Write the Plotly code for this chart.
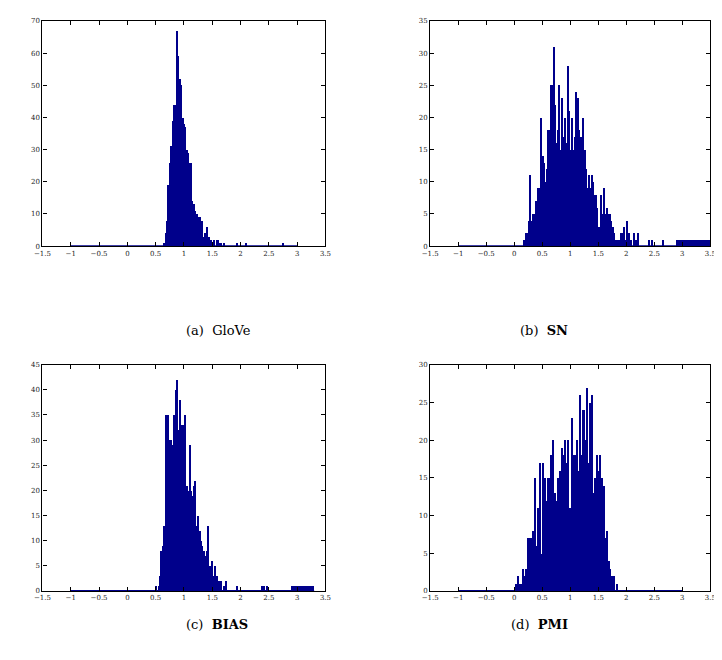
import plotly.graph_objects as go
import numpy as np

# histogram counts (bin start, bin width, counts)
glove_start, glove_step = 0.65, 0.025
glove_counts = [1, 4, 8, 19, 26, 31, 39, 44, 44, 67, 59, 52, 50, 40, 38, 37, 30, 29, 26, 26,
                14, 13, 11, 10, 9, 9, 8, 8, 3, 4, 6, 3, 3, 2, 0, 2, 0, 2, 2, 1, 1, 0, 1]
glove_tail_x = [1.94, 2.1, 2.75]
glove_tail_y = [1, 1, 1]
glove_base = [-1.0, 3.0]

sn_start, sn_step = 0.175, 0.025
sn_counts = [1, 2, 2, 4, 11, 4, 5, 5, 7, 6, 9, 9, 20, 14, 13, 10, 12, 18, 18, 25, 25, 31, 22, 16,
             18, 25, 15, 23, 17, 20, 16, 28, 21, 15, 20, 15, 17, 24, 23, 18, 17, 17, 20, 15, 12,
             9, 11, 9, 11, 10, 8, 8, 6, 3, 3, 8, 5, 9, 5, 6, 5, 5, 4, 3, 2, 1, 1, 1, 1, 2, 2, 3,
             1, 4, 1, 2, 1, 0, 2, 0, 1, 2]
sn_tail_x = [2.4, 2.45, 2.65] + [2.9 + 0.025 * i for i in range(24)]
sn_tail_y = [1, 1, 1] + [1] * 24
sn_base = [-1.0, 3.5]

bias_start, bias_step = 0.5, 0.025
bias_counts = [1, 0, 1, 3, 8, 9, 13, 35, 35, 35, 30, 30, 29, 35, 40, 42, 32, 38, 33, 33, 24, 35,
               21, 20, 29, 20, 19, 21, 22, 13, 15, 12, 10, 9, 8, 7, 8, 13, 5, 5, 6, 3, 5, 3, 2,
               2, 2, 0, 1, 1, 2]
bias_tail_x = [1.93, 2.38, 2.42, 2.46] + [2.9 + 0.025 * i for i in range(16)]
bias_tail_y = [1, 1, 1, 1] + [1] * 16
bias_base = [-1.0, 3.3]

pmi_start, pmi_step = 0.03, 0.03
pmi_counts = [1, 2, 1, 1, 3, 2, 3, 7, 7, 7, 8, 15, 6, 11, 17, 5, 17, 15, 12, 15, 15, 18, 20, 13,
              12, 15, 16, 19, 18, 20, 17, 20, 11, 23, 18, 18, 20, 16, 26, 18, 24, 20, 27, 17, 25,
              26, 13, 15, 18, 16, 18, 15, 14, 7, 8, 4, 3, 2, 2, 0, 1]
pmi_tail_x = []
pmi_tail_y = []
pmi_base = [-1.0, 3.0]

captions = ["(a)  GloVe", "(b)  <b>SN</b>", "(c)  <b>BIAS</b>", "(d)  <b>PMI</b>"]
y_max = [70, 35, 45, 30]
y_dtick = [10, 5, 5, 5]

panels = [
    (glove_start, glove_step, glove_counts, glove_tail_x, glove_tail_y, glove_base),
    (sn_start, sn_step, sn_counts, sn_tail_x, sn_tail_y, sn_base),
    (bias_start, bias_step, bias_counts, bias_tail_x, bias_tail_y, bias_base),
    (pmi_start, pmi_step, pmi_counts, pmi_tail_x, pmi_tail_y, pmi_base),
]

W, H = 722, 660
x_domains = [[26 / W, 315 / W], [422 / W, 708 / W]] * 2
y_domains = [[1 - 237 / H, 1 - 9 / H]] * 2 + [[1 - 586 / H, 1 - 357 / H]] * 2
caption_y = [1 - 322 / H, 1 - 322 / H, 1 - 630 / H, 1 - 630 / H]

navy = "#00008B"
font = "DejaVu Serif"
fig = go.Figure()

for i, (start, step, counts, tx, ty, base) in enumerate(panels):
    n = i + 1
    xa = "x" if n == 1 else "x%d" % n
    ya = "y" if n == 1 else "y%d" % n
    centers = start + step * np.arange(len(counts)) + step / 2
    fig.add_trace(go.Scatter(x=base, y=[0, 0], mode="lines", line=dict(color=navy, width=2),
                             xaxis=xa, yaxis=ya, showlegend=False, hoverinfo="skip"))
    fig.add_trace(go.Bar(x=centers, y=counts, width=step, marker=dict(color=navy, line=dict(width=0)),
                         xaxis=xa, yaxis=ya, showlegend=False))
    if tx:
        fig.add_trace(go.Bar(x=[v + 0.0125 for v in tx], y=ty, width=0.025,
                             marker=dict(color=navy, line=dict(width=0)),
                             xaxis=xa, yaxis=ya, showlegend=False))
    axis_common = dict(showline=True, linecolor="black", linewidth=1.2, mirror="ticks",
                       ticks="inside", ticklen=4, tickcolor="black", showgrid=False,
                       zeroline=False, ticklabeloverflow="allow",
                       tickfont=dict(family=font, size=7, color="#222222"))
    fig.layout["xaxis" if n == 1 else "xaxis%d" % n] = dict(
        domain=x_domains[i], anchor=ya, range=[-1.5, 3.5], dtick=0.5, tick0=-1.5, **axis_common)
    fig.layout["yaxis" if n == 1 else "yaxis%d" % n] = dict(
        domain=y_domains[i], anchor=xa, range=[0, y_max[i]], dtick=y_dtick[i], **axis_common)
    fig.add_annotation(text=captions[i], x=sum(x_domains[i]) / 2, y=caption_y[i],
                       xref="paper", yref="paper", showarrow=False,
                       font=dict(family=font, size=13, color="black"))

fig.update_layout(width=W, height=H, margin=dict(l=0, r=0, t=0, b=0), barmode="overlay",
                  bargap=0, plot_bgcolor="white", paper_bgcolor="white")
fig.write_html("out.html")
